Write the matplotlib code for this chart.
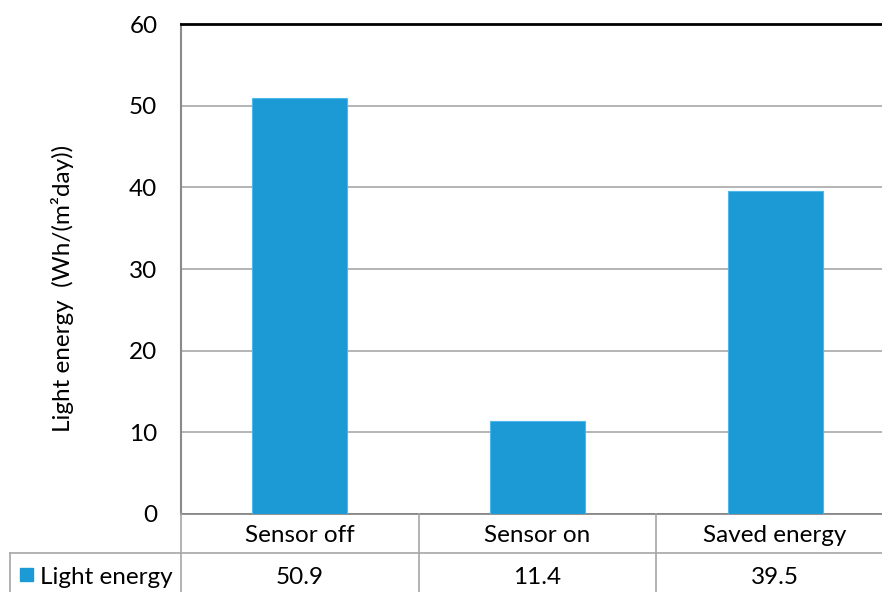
import matplotlib
matplotlib.use("Agg")
import matplotlib.pyplot as plt
from matplotlib.lines import Line2D
from matplotlib.patches import Rectangle
import matplotlib.transforms as mtransforms

categories = ["Sensor off", "Sensor on", "Saved energy"]
light_energy = [50.9, 11.4, 39.5]
series_name = "Light energy"
y_ticks = [0, 10, 20, 30, 40, 50, 60]
y_label = "Light energy  (Wh/(m²day))"

plt.rcParams["font.family"] = ["Lato", "DejaVu Sans"]

W, H = 882, 592
fig = plt.figure(figsize=(W / 100, H / 100), dpi=100)

bar_color = "#1c9ad6"
grid_color = "#a0a0a0"
table_color = "#a6a6a6"
fs = 17.5

# plot area in pixel units converted to figure fractions
left, right, top, bottom = 181, 894, 24, 514
ax = fig.add_axes([left / W, (H - bottom) / H, (right - left) / W, (bottom - top) / H])

x = list(range(len(categories)))
ax.bar(x, light_energy, width=0.4, color=bar_color, edgecolor="#4fb8ea",
       linewidth=0.8, zorder=3)
ax.set_xlim(-0.5, len(categories) - 0.5)
ax.set_ylim(0, 60)
ax.set_yticks(y_ticks)
ax.set_yticklabels([str(t) for t in y_ticks], fontsize=fs)
ax.tick_params(axis="y", length=0, pad=17)
ax.set_xticks([])
ax.yaxis.grid(True, color=grid_color, linewidth=1.1, zorder=0)
ax.set_axisbelow(True)

ax.spines["right"].set_visible(False)
ax.spines["top"].set_color("black")
ax.spines["top"].set_linewidth(2)
ax.spines["left"].set_color("#8a8a8a")
ax.spines["left"].set_linewidth(1.5)
ax.spines["bottom"].set_color("#7f7f7f")
ax.spines["bottom"].set_linewidth(1.2)

fig.text(63 / W, 1 - 288 / H, y_label, rotation=90, ha="center", va="center",
         fontsize=fs)

# data table beneath the axis
def fy(px):
    return 1 - px / H

def fx(px):
    return px / W

row_sep = 553
lines = [
    ((fx(left), fx(left)), (fy(bottom), fy(H + 2))),
    ((fx(10), fx(W)), (fy(row_sep), fy(row_sep))),
    ((fx(10), fx(10)), (fy(row_sep), fy(H + 2))),
]
for xs, ys in lines:
    fig.add_artist(Line2D(xs, ys, color=table_color, linewidth=1.2,
                          transform=fig.transFigure))

trans = mtransforms.blended_transform_factory(ax.transData, fig.transFigure)
for i in range(1, len(categories)):
    fig.add_artist(Line2D([i - 0.5, i - 0.5], [fy(bottom), fy(H + 2)],
                          color=table_color, linewidth=1.2, transform=trans))

for i, (cat, val) in enumerate(zip(categories, light_energy)):
    fig.text(i, fy(536), cat, transform=trans, ha="center", va="center",
             fontsize=fs)
    fig.text(i, fy(578), f"{val:.1f}", transform=trans, ha="center",
             va="center", fontsize=fs)

fig.add_artist(Rectangle((fx(20), fy(581)), fx(13), 13 / H, color=bar_color,
                         transform=fig.transFigure))
fig.text(fx(40), fy(578), series_name, ha="left", va="center", fontsize=fs)

fig.savefig("out.png", dpi=100)
